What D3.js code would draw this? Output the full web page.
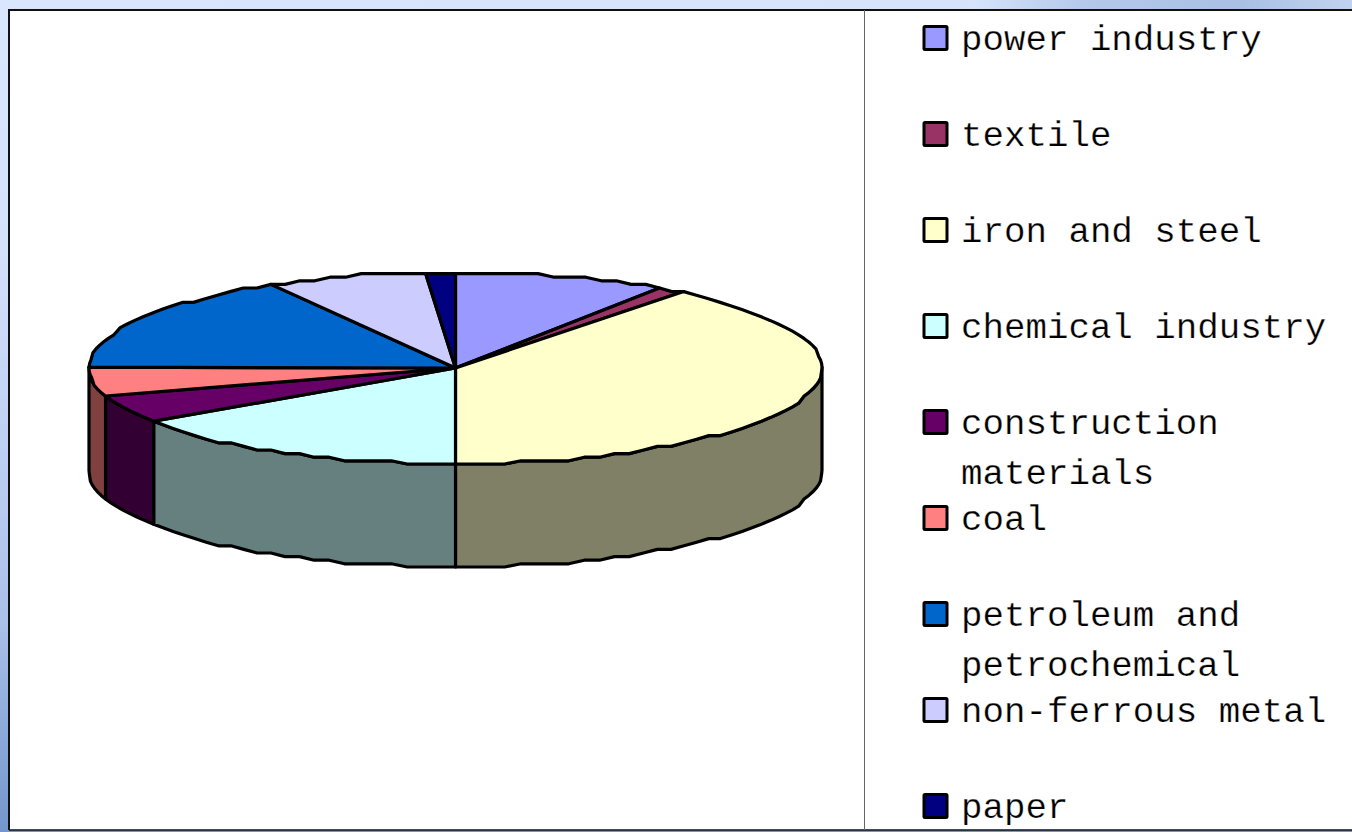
<!DOCTYPE html>
<html lang="en">
<head>
    <meta charset="UTF-8">
    <title>Share by industry</title>
    <script src="https://d3js.org/d3.v7.min.js"></script>
    <style>
        html, body { margin: 0; padding: 0; background: #dae6fe; overflow: hidden; }
        svg { display: block; }
        .legendText { font-family: "Liberation Mono", monospace; font-size: 35.8px; fill: #000; stroke: #fff; stroke-width: 0.25px; }
    </style>
</head>
<body>
<script>
    // values, percent of the total
    const categories = ["power industry", "textile", "iron and steel", "chemical industry",
        "construction materials", "coal", "petroleum and petrochemical", "non-ferrous metal", "paper"]
    const shares = [9.4, 1.3, 39.3, 15.4, 4.8, 5, 16.4, 7.1, 1.3]
    const topColors = ["#9999ff", "#993366", "#ffffcc", "#ccffff", "#660066", "#ff8080", "#0066cc", "#ccccff", "#000080"]
    const legendLines = [["power industry"], ["textile"], ["iron and steel"], ["chemical industry"],
        ["construction", "materials"], ["coal"], ["petroleum and", "petrochemical"], ["non-ferrous metal"], ["paper"]]

    const size = {width: 1352, height: 832}
    const plot = {left: 9, top: 10, right: 1352, bottom: 830, split: 864}
    const pieBox = {left: 89, right: 822, top: 272, bottom: 464, depth: 103}

    const svg = d3.select("body").append("svg")
        .attr("width", size.width)
        .attr("height", size.height)

    // slide background behind the chart
    const defs = svg.append("defs")
    const sideGrad = defs.append("linearGradient").attr("id", "sideGrad").attr("x1", 0).attr("y1", 0).attr("x2", 0).attr("y2", 1)
    sideGrad.selectAll("stop").data([[0, "#dae6fe"], [0.3, "#d4e1fb"], [0.55, "#bccff2"], [0.75, "#a9c0e8"], [0.9, "#88a6d8"], [1, "#7596cc"]])
        .enter().append("stop").attr("offset", d => d[0]).attr("stop-color", d => d[1])
    const topGrad = defs.append("linearGradient").attr("id", "topGrad")
    topGrad.selectAll("stop").data([[0, "#dae6fe"], [0.72, "#d6e3fb"], [0.8, "#b5c9ea"], [0.92, "#a9c0e4"], [1, "#c2d3f0"]])
        .enter().append("stop").attr("offset", d => d[0]).attr("stop-color", d => d[1])

    svg.append("rect").attr("width", size.width).attr("height", size.height).attr("fill", "url(#sideGrad)")
    svg.append("rect").attr("width", size.width).attr("height", plot.top).attr("fill", "url(#topGrad)")

    svg.append("rect")
        .attr("x", plot.left).attr("y", plot.top)
        .attr("width", plot.right - plot.left).attr("height", plot.bottom - plot.top)
        .attr("fill", "#fff")
    svg.append("path")
        .attr("d", `M${plot.left},${plot.bottom}V${plot.top}H${plot.right}`)
        .attr("fill", "none").attr("stroke", "#111").attr("stroke-width", 2)
    svg.append("path")
        .attr("d", `M${plot.left},${plot.bottom}H${plot.right}`)
        .attr("fill", "none").attr("stroke", "#111").attr("stroke-width", 1.5)
    svg.append("line")
        .attr("x1", plot.split + 0.5).attr("x2", plot.split + 0.5)
        .attr("y1", plot.top).attr("y2", plot.bottom)
        .attr("stroke", "#666").attr("stroke-width", 1)

    // unit circle -> flattened ellipse
    const xScale = d3.scaleLinear().domain([-1, 1]).range([pieBox.left, pieBox.right])
    const yScale = d3.scaleLinear().domain([1, -1]).range([pieBox.top, pieBox.bottom])

    // the original rim is low resolution, so its y snaps to steps
    const rimStepY = 3.6
    const rimPoint = a => [
        xScale(Math.sin(a)),
        Math.min(pieBox.bottom, Math.max(pieBox.top, Math.round(yScale(Math.cos(a)) / rimStepY) * rimStepY))
    ]
    const center = [xScale(0), yScale(0)]

    function rimPoints(a0, a1) {
        const n = Math.max(1, Math.round((a1 - a0) / 0.045))
        return d3.range(n + 1).map(i => rimPoint(a0 + (a1 - a0) * i / n))
    }

    const line = d3.line()
    const pie = d3.pie().sort(null).value(d => d.share)
    const slices = pie(categories.map((c, i) => ({name: c, share: shares[i], color: topColors[i]})))

    const lineWidth = 3.2

    // outer wall, only the part facing the viewer, half as bright as the top
    const wall = svg.append("g")
    slices.forEach(s => {
        const a0 = Math.max(s.startAngle, Math.PI / 2)
        const a1 = Math.min(s.endAngle, Math.PI * 1.5)
        if (a1 <= a0) return
        const upper = rimPoints(a0, a1)
        const lower = upper.map(p => [p[0], p[1] + pieBox.depth]).reverse()
        const c = d3.rgb(s.data.color)
        wall.append("path")
            .attr("d", line(upper.concat(lower)) + "Z")
            .attr("fill", d3.rgb(c.r / 2, c.g / 2, c.b / 2).formatHex())
            .attr("stroke", "#000").attr("stroke-width", lineWidth).attr("stroke-linejoin", "round")
    })

    // top face
    svg.append("g").selectAll("path")
        .data(slices)
        .enter()
        .append("path")
        .attr("d", s => line([center].concat(rimPoints(s.startAngle, s.endAngle))) + "Z")
        .attr("fill", s => s.data.color)
        .attr("stroke", "#000").attr("stroke-width", lineWidth).attr("stroke-linejoin", "round")

    // legend
    const legendY = d3.scalePoint().domain(categories).range([38, 806])
    const legend = svg.append("g").selectAll("g")
        .data(categories)
        .enter()
        .append("g")
        .attr("transform", d => `translate(924,${legendY(d)})`)

    legend.append("rect")
        .attr("x", 0).attr("y", -11.5)
        .attr("width", 23).attr("height", 23)
        .attr("rx", 1)
        .attr("fill", (d, i) => topColors[i])
        .attr("stroke", "#000").attr("stroke-width", 3)

    legend.each(function (d, i) {
        d3.select(this).selectAll("text")
            .data(legendLines[i])
            .enter()
            .append("text")
            .attr("class", "legendText")
            .attr("x", 37)
            .attr("y", (t, j) => 12 + j * 50)
            .text(t => t)
    })
</script>
</body>
</html>
